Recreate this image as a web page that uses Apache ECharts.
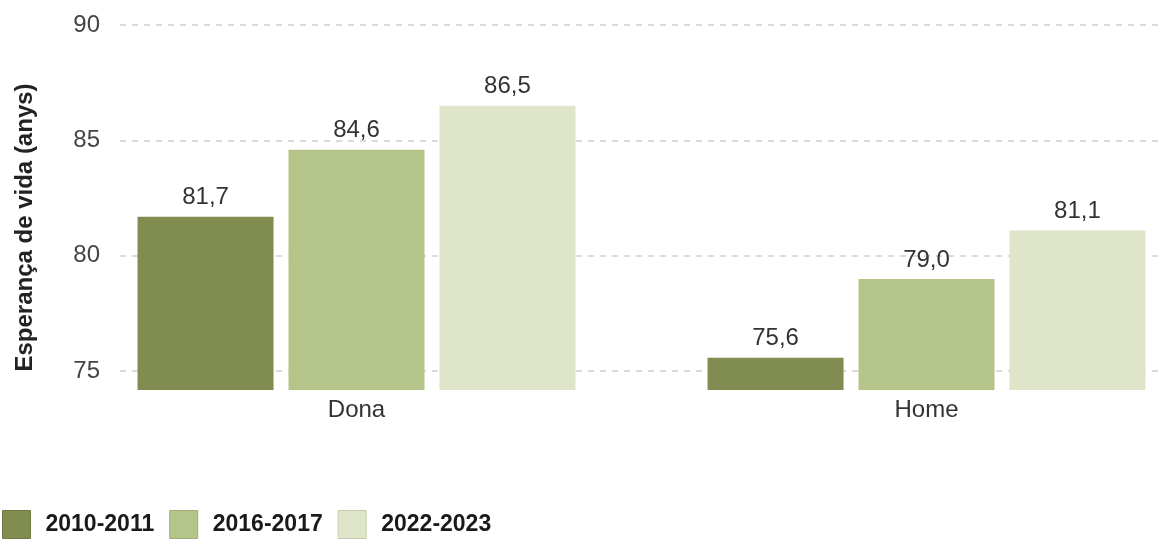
<!DOCTYPE html>
<html>
<head>
<meta charset="utf-8">
<script src="https://cdn.jsdelivr.net/npm/echarts@6/dist/echarts.min.js"></script>
<style>
html,body{margin:0;padding:0;background:#fff;}
#chart{width:1165px;height:541px;}
</style>
</head>
<body>
<div id="chart"></div>
<script>
const categories = ['Dona', 'Home'];
const periods = ['2010-2011', '2016-2017', '2022-2023'];
const values2010 = [81.7, 75.6];
const values2016 = [84.6, 79.0];
const values2022 = [86.5, 81.1];
const yTicks = [75, 80, 85, 90];
const yAxisTitle = 'Esperança de vida (anys)';

const colors = ['#808c50', '#b5c488', '#dfe5c9'];
const borders = ['#6e7a42', '#9fae72', '#c5ccae'];
const seriesValues = [values2010, values2016, values2022];

const chart = echarts.init(document.getElementById('chart'), null, {renderer: 'canvas'});
const fmt = v => v.toFixed(1).replace('.', ',');

const series = periods.map((p, i) => ({
  name: p,
  type: 'bar',
  xAxisIndex: 0,
  yAxisIndex: 0,
  data: seriesValues[i],
  barWidth: 136,
  barGap: '11%',
  itemStyle: {color: colors[i]},
  label: {
    show: true,
    position: 'top',
    distance: 7,
    formatter: d => fmt(d.value),
    fontFamily: 'Liberation Sans, Arial, sans-serif',
    fontSize: 24,
    color: '#333'
  },
  emphasis: {disabled: true}
}));

chart.setOption({
  animation: false,
  backgroundColor: '#fff',
  textStyle: {fontFamily: 'Liberation Sans, Arial, sans-serif'},
  grid: [
    {left: 71.5, width: 1140, top: 25, height: 365, outerBoundsMode: 'none', containLabel: false},
    {left: 120, right: 3, top: 25, bottom: 170, outerBoundsMode: 'none', containLabel: false}
  ],
  legend: {
    left: 2,
    top: 510,
    padding: 0,
    icon: 'rect',
    itemWidth: 28,
    itemHeight: 28,
    itemGap: 15,
    textStyle: {
      fontFamily: 'Liberation Sans, Arial, sans-serif',
      fontWeight: 'bold',
      fontSize: 23,
      color: '#1a1a1a',
      padding: [0, 0, 0, 10]
    },
    data: periods.map((p, i) => ({name: p, itemStyle: {borderColor: borders[i], borderWidth: 1}}))
  },
  xAxis: [
    {
      gridIndex: 0,
      type: 'category',
      data: categories,
      axisLine: {show: false},
      axisTick: {show: false},
      axisLabel: {
        margin: 8,
        fontSize: 24,
        color: '#333',
        fontFamily: 'Liberation Sans, Arial, sans-serif'
      }
    },
    {gridIndex: 1, type: 'value', show: false, min: 0, max: 1}
  ],
  yAxis: [
    {
      gridIndex: 0,
      type: 'value',
      min: 74.2,
      max: 90,
      axisLine: {show: false},
      axisTick: {show: false},
      axisLabel: {show: false},
      splitLine: {show: false},
      name: yAxisTitle,
      nameLocation: 'middle',
      nameGap: 34,
      nameTextStyle: {
        fontFamily: 'Liberation Sans, Arial, sans-serif',
        fontWeight: 'bold',
        fontSize: 24,
        color: '#222',
        padding: [0, 40, 0, 0]
      }
    },
    {
      gridIndex: 1,
      type: 'value',
      min: yTicks[0],
      max: yTicks[yTicks.length - 1],
      interval: 5,
      axisLine: {show: false},
      axisTick: {show: false},
      axisLabel: {
        margin: 20,
        fontSize: 24,
        color: '#444',
        fontFamily: 'Liberation Sans, Arial, sans-serif'
      },
      splitLine: {
        show: true,
        showMinLine: true,
        showMaxLine: true,
        lineStyle: {color: '#d0d0d0', width: 1.5, type: [6, 6]}
      }
    }
  ],
  series: series
});
</script>
</body>
</html>
